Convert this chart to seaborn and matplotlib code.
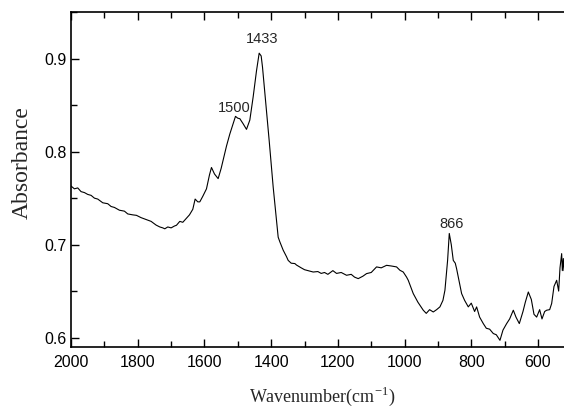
import matplotlib
matplotlib.use("Agg")
import matplotlib.pyplot as plt
import seaborn as sns
import pandas as pd
from matplotlib.ticker import MultipleLocator

sns.set_style("ticks")
plt.rcParams["font.family"] = ["Liberation Sans", "DejaVu Sans"]

wavenumber = [
    2000, 1990, 1980, 1970, 1960, 1950, 1940, 1930, 1920, 1905, 1890, 1880, 1870,
    1855, 1840, 1830, 1815, 1804, 1790, 1775, 1760, 1745, 1734, 1725, 1719, 1710,
    1700, 1690, 1684, 1674, 1665, 1655, 1645, 1635, 1628, 1620, 1614, 1605, 1594,
    1585, 1579, 1570, 1559, 1550, 1544, 1534, 1524, 1514, 1507, 1500, 1494, 1484,
    1474, 1464, 1454, 1444, 1436, 1430, 1426, 1416, 1406, 1394, 1384, 1379, 1374,
    1364, 1354, 1349, 1340, 1329, 1324, 1310, 1300, 1290, 1274, 1260, 1250, 1240,
    1230, 1215, 1204, 1190, 1174, 1160, 1150, 1139, 1125, 1114, 1100, 1084, 1070,
    1054, 1040, 1024, 1014, 1004, 994, 989, 974, 960, 944, 935, 925, 914, 904, 894,
    885, 879, 871, 866, 860, 854, 848, 844, 836, 829, 820, 809, 800, 790, 784, 775,
    764, 755, 745, 734, 725, 714, 705, 694, 685, 674, 666, 656, 645, 638, 629, 620,
    612, 604, 595, 588, 580, 574, 565, 559, 552, 544, 538, 534, 529, 527, 524, 522,
]
absorbance = [
    0.763, 0.760, 0.761, 0.757, 0.756, 0.754, 0.753, 0.750, 0.749, 0.745, 0.744,
    0.741, 0.740, 0.737, 0.736, 0.733, 0.732, 0.7315, 0.729, 0.727, 0.725, 0.721,
    0.719, 0.718, 0.717, 0.719, 0.718, 0.720, 0.7208, 0.725, 0.724, 0.728, 0.732,
    0.738, 0.749, 0.746, 0.746, 0.752, 0.760, 0.775, 0.783, 0.776, 0.771, 0.782,
    0.791, 0.806, 0.819, 0.830, 0.838, 0.836, 0.8355, 0.830, 0.824, 0.834, 0.859,
    0.887, 0.906, 0.903, 0.891, 0.852, 0.812, 0.762, 0.726, 0.708, 0.703, 0.694,
    0.687, 0.683, 0.680, 0.6796, 0.678, 0.675, 0.673, 0.672, 0.6705, 0.671, 0.669,
    0.670, 0.668, 0.672, 0.669, 0.670, 0.667, 0.668, 0.665, 0.6634, 0.666, 0.6688,
    0.670, 0.676, 0.675, 0.6777, 0.677, 0.676, 0.6724, 0.6705, 0.665, 0.6616,
    0.6473, 0.638, 0.6294, 0.626, 0.630, 0.6275, 0.630, 0.633, 0.640, 0.6509,
    0.6831, 0.712, 0.700, 0.683, 0.680, 0.674, 0.660, 0.6473, 0.640, 0.633, 0.637,
    0.628, 0.633, 0.622, 0.615, 0.610, 0.609, 0.6043, 0.603, 0.597, 0.608, 0.615,
    0.620, 0.6294, 0.622, 0.615, 0.628, 0.638, 0.649, 0.641, 0.625, 0.622, 0.630,
    0.620, 0.628, 0.6294, 0.630, 0.6366, 0.655, 0.6616, 0.650, 0.675, 0.6903,
    0.672, 0.685, 0.672,
]
peak_labels = ["1433", "1500", "866"]
peak_label_x = [1428, 1510, 858]
peak_label_y = [0.921, 0.847, 0.722]

df = pd.DataFrame({"wavenumber": wavenumber, "absorbance": absorbance})

fig = plt.figure(figsize=(5.64, 4.09), dpi=100)
ax = fig.add_axes([0.126, 0.152, 0.874, 0.818])
sns.lineplot(data=df, x="wavenumber", y="absorbance", sort=False, estimator=None,
             color="black", linewidth=0.8, ax=ax)

ax.set_xlim(2000, 522)
ax.set_ylim(0.59, 0.95)
ax.xaxis.set_major_locator(MultipleLocator(200))
ax.xaxis.set_minor_locator(MultipleLocator(100))
ax.yaxis.set_major_locator(MultipleLocator(0.1))
ax.yaxis.set_minor_locator(MultipleLocator(0.05))
ax.tick_params(axis="both", which="both", direction="in", top=True, right=False,
               width=1.0, colors="black")
ax.tick_params(axis="both", which="major", length=6, labelsize=11.5)
ax.tick_params(axis="both", which="minor", length=4)
ax.tick_params(axis="x", pad=6)
ax.tick_params(axis="y", pad=3)
ax.yaxis.set_major_formatter(matplotlib.ticker.FormatStrFormatter("%.1f"))
ax.spines["right"].set_visible(False)
for s in ["left", "bottom", "top"]:
    ax.spines[s].set_linewidth(1.2)
    ax.spines[s].set_color("black")

ax.set_ylabel("Absorbance", family=["Liberation Serif"], fontsize=17)
ax.set_xlabel(r"Wavenumber(cm$^{\mathregular{-1}}$)", family=["Liberation Serif"], fontsize=13)
ax.yaxis.set_label_coords(-0.099, 0.551)
ax.xaxis.set_label_coords(0.51, -0.148)
ax.xaxis.label.set_va("center")
ax.yaxis.label.set_va("center")

for t, x, y in zip(peak_labels, peak_label_x, peak_label_y):
    ax.text(x, y, t, ha="center", va="center", fontsize=10.5)

fig.savefig("out.png", dpi=100)
